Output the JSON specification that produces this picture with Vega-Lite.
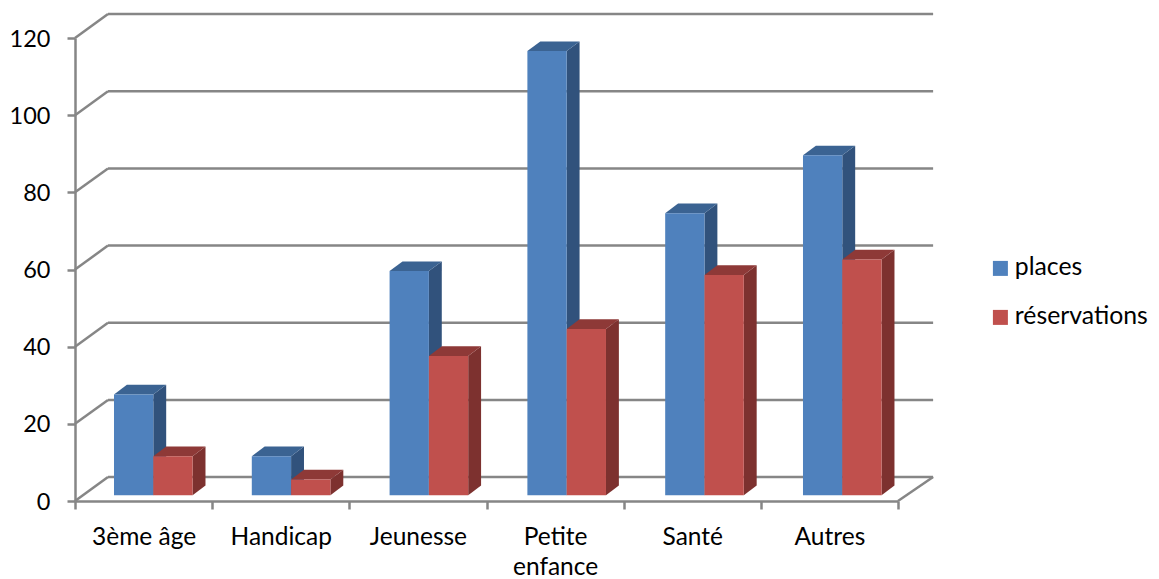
{
"$schema":"https://vega.github.io/schema/vega-lite/v6.json",
"width":823,"height":463,
"autosize":{"type":"none"},
"padding":{"left":75,"top":38,"right":261,"bottom":78},
"background":"white",
"config":{"view":{"stroke":null},"font":"Lato"},
"data":{"values":[
{"cat":"3ème âge","series":"places","value":26},{"cat":"3ème âge","series":"réservations","value":10},
{"cat":"Handicap","series":"places","value":10},{"cat":"Handicap","series":"réservations","value":4},
{"cat":"Jeunesse","series":"places","value":58},{"cat":"Jeunesse","series":"réservations","value":36},
{"cat":"Petite enfance","series":"places","value":115},{"cat":"Petite enfance","series":"réservations","value":43},
{"cat":"Santé","series":"places","value":73},{"cat":"Santé","series":"réservations","value":57},
{"cat":"Autres","series":"places","value":88},{"cat":"Autres","series":"réservations","value":61}
]},
"transform":[
{"calculate":"indexof(['3ème âge','Handicap','Jeunesse','Petite enfance','Santé','Autres'],datum.cat)","as":"k"},
{"calculate":"datum.k*1.0046+0.2843+(datum.series==='places'?0:0.2865)","as":"x0"},
{"calculate":"datum.x0+0.2865","as":"x1"},
{"calculate":"1.5","as":"base"},
{"calculate":"datum.base+datum.value+0.1","as":"top"},
{"calculate":"datum.cat+'|'+datum.series","as":"key"}
],
"layer":[
{"data":{"values":[{"v":0},{"v":20},{"v":40},{"v":60},{"v":80},{"v":100},{"v":120}]},
 "transform":[{"calculate":"datum.v+6.2","as":"yb"}],
 "mark":{"type":"rule","color":"#868686","strokeWidth":2.5},
 "encoding":{
  "x":{"datum":0.2406,"type":"quantitative","scale":{"domain":[0,6]},"axis":null},
  "x2":{"datum":6.256},
  "y":{"field":"yb","type":"quantitative","scale":{"domain":[0,120]},
   "axis":{"title":null,"values":[0,20,40,60,80,100,120],"grid":false,"domainColor":"#868686","domainWidth":2.5,"tickColor":"#868686","tickWidth":2.5,"tickSize":8,"labelFont":"Lato","labelFontSize":23.5,"labelColor":"#000000","labelPadding":17,"labelOffset":1}}
 }},
{"data":{"values":[{"v":0},{"v":20},{"v":40},{"v":60},{"v":80},{"v":100},{"v":120}]},
 "transform":[{"calculate":"datum.v+6.2","as":"yb"}],
 "mark":{"type":"rule","color":"#868686","strokeWidth":2.5},
 "encoding":{
  "x":{"datum":0,"type":"quantitative","scale":{"domain":[0,6]},"axis":null},
  "x2":{"datum":0.2406},
  "y":{"field":"v","type":"quantitative","scale":{"domain":[0,120]}},
  "y2":{"field":"yb"}
 }},
{"data":{"values":[{"v":0}]},
 "transform":[{"calculate":"datum.v+6.2","as":"yb"}],
 "mark":{"type":"rule","color":"#868686","strokeWidth":2.5},
 "encoding":{
  "x":{"datum":6,"type":"quantitative","scale":{"domain":[0,6]},"axis":null},
  "x2":{"datum":6.256},
  "y":{"field":"v","type":"quantitative","scale":{"domain":[0,120]}},
  "y2":{"field":"yb"}
 }},
{"mark":{"type":"point","opacity":0},
 "encoding":{
  "x":{"field":"cat","type":"nominal","scale":{"domain":["3ème âge","Handicap","Jeunesse","Petite enfance","Santé","Autres"],"paddingInner":0,"paddingOuter":0},
   "axis":{"title":null,"tickBand":"extent","labelAngle":0,"domainColor":"#868686","domainWidth":2.5,"tickColor":"#868686","tickWidth":2.5,"tickSize":8,"labelFont":"Lato","labelFontSize":24.5,"labelColor":"#000000","labelPadding":16,"labelLineHeight":30,"labelOverlap":false,"labelExpr":"datum.label==='Petite enfance'?['Petite','enfance']:datum.label"}},
  "y":{"field":"value","type":"quantitative","scale":{"domain":[0,120]}}
 }},
{"transform":[{"calculate":"[0,1]","as":"t"},{"flatten":["t"]},
  {"calculate":"datum.x1+datum.t*0.094","as":"sx"},
  {"calculate":"datum.base+datum.t*2.5","as":"sy"},
  {"calculate":"datum.top+datum.t*2.5","as":"sy2"}],
 "mark":{"type":"area","orient":"vertical","opacity":1},
 "encoding":{
  "x":{"field":"sx","type":"quantitative","scale":{"domain":[0,6]},"axis":null},
  "y":{"field":"sy","type":"quantitative","scale":{"domain":[0,120]},"stack":null},
  "y2":{"field":"sy2"},
  "detail":{"field":"key"},
  "color":{"field":"series","type":"nominal","legend":null,"scale":{"domain":["places","réservations"],"range":["#31527C","#7D312F"]}}
 }},
{"transform":[{"calculate":"[0,1]","as":"t"},{"flatten":["t"]},
  {"calculate":"datum.x0+datum.t*0.094","as":"tx0"},
  {"calculate":"datum.x1+datum.t*0.094","as":"tx1"},
  {"calculate":"datum.top+datum.t*2.5","as":"ty"}],
 "mark":{"type":"area","orient":"horizontal","opacity":1},
 "encoding":{
  "y":{"field":"ty","type":"quantitative","scale":{"domain":[0,120]}},
  "x":{"field":"tx0","type":"quantitative","scale":{"domain":[0,6]},"axis":null,"stack":null},
  "x2":{"field":"tx1"},
  "detail":{"field":"key"},
  "color":{"field":"series","type":"nominal","legend":null,"scale":{"domain":["places","réservations"],"range":["#3B6392","#8E3937"]}}
 }},
{"mark":{"type":"rect"},
 "encoding":{
  "x":{"field":"x0","type":"quantitative","scale":{"domain":[0,6]},"axis":null},
  "x2":{"field":"x1"},
  "y":{"field":"base","type":"quantitative","scale":{"domain":[0,120]}},
  "y2":{"field":"top"},
  "color":{"field":"series","type":"nominal","scale":{"domain":["places","réservations"],"range":["#4F81BD","#C0504D"]},
   "legend":{"title":null,"orient":"none","legendX":913,"legendY":218,"symbolType":"square","symbolSize":225,"symbolStrokeWidth":0,"labelFont":"Lato","labelFontSize":24.8,"labelColor":"#000000","rowPadding":23,"labelOffset":2,"padding":0,"offset":0}}
 }}
],
"resolve":{"scale":{"x":"independent","color":"independent"},"axis":{"x":"independent"}}
}
